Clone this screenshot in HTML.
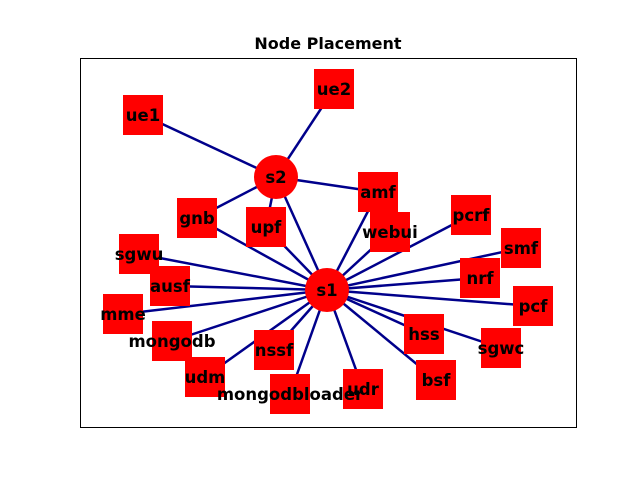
<!DOCTYPE html>
<html><head><meta charset="utf-8"><style>body{margin:0;background:#fff}svg{display:block}</style></head>
<body>
<svg width="640" height="480" xmlns="http://www.w3.org/2000/svg" font-family="DejaVu Sans, Liberation Sans, sans-serif">
<rect width="640" height="480" fill="#fff"/>
<rect x="80.5" y="58.5" width="496" height="369" fill="none" stroke="#000" stroke-width="1"/>
<text x="328" y="49" text-anchor="middle" font-size="16" font-weight="bold">Node Placement</text>
<g stroke="#00008b" stroke-width="2.5">
<line x1="276" y1="177" x2="143" y2="115"/>
<line x1="276" y1="177" x2="334" y2="89"/>
<line x1="276" y1="177" x2="197" y2="218"/>
<line x1="276" y1="177" x2="266" y2="227"/>
<line x1="276" y1="177" x2="378" y2="192"/>
<line x1="276" y1="177" x2="327" y2="290"/>
<line x1="327" y1="290" x2="378" y2="192"/>
<line x1="327" y1="290" x2="197" y2="218"/>
<line x1="327" y1="290" x2="266" y2="227"/>
<line x1="327" y1="290" x2="390" y2="232"/>
<line x1="327" y1="290" x2="471" y2="215"/>
<line x1="327" y1="290" x2="521" y2="248"/>
<line x1="327" y1="290" x2="139" y2="254"/>
<line x1="327" y1="290" x2="170" y2="286"/>
<line x1="327" y1="290" x2="480" y2="278"/>
<line x1="327" y1="290" x2="533" y2="306"/>
<line x1="327" y1="290" x2="123" y2="314"/>
<line x1="327" y1="290" x2="172" y2="341"/>
<line x1="327" y1="290" x2="274" y2="350"/>
<line x1="327" y1="290" x2="424" y2="334"/>
<line x1="327" y1="290" x2="501" y2="348"/>
<line x1="327" y1="290" x2="205" y2="377"/>
<line x1="327" y1="290" x2="290" y2="394"/>
<line x1="327" y1="290" x2="363" y2="389"/>
<line x1="327" y1="290" x2="436" y2="380"/>
</g>
<g fill="#ff0000">
<rect x="123" y="95" width="40" height="40"/>
<rect x="314" y="69" width="40" height="40"/>
<rect x="358" y="172" width="40" height="40"/>
<rect x="177" y="198" width="40" height="40"/>
<rect x="246" y="207" width="40" height="40"/>
<rect x="370" y="212" width="40" height="40"/>
<rect x="451" y="195" width="40" height="40"/>
<rect x="501" y="228" width="40" height="40"/>
<rect x="119" y="234" width="40" height="40"/>
<rect x="150" y="266" width="40" height="40"/>
<rect x="460" y="258" width="40" height="40"/>
<rect x="513" y="286" width="40" height="40"/>
<rect x="103" y="294" width="40" height="40"/>
<rect x="152" y="321" width="40" height="40"/>
<rect x="254" y="330" width="40" height="40"/>
<rect x="404" y="314" width="40" height="40"/>
<rect x="481" y="328" width="40" height="40"/>
<rect x="185" y="357" width="40" height="40"/>
<rect x="270" y="374" width="40" height="40"/>
<rect x="343" y="369" width="40" height="40"/>
<rect x="416" y="360" width="40" height="40"/>
<circle cx="276" cy="177" r="22"/>
<circle cx="327" cy="290" r="22"/>
</g>
<g font-size="16.5" font-weight="bold" text-anchor="middle" fill="#000">
<text x="143" y="121">ue1</text>
<text x="334" y="95">ue2</text>
<text x="276" y="183">s2</text>
<text x="378" y="198">amf</text>
<text x="197" y="224">gnb</text>
<text x="266" y="233">upf</text>
<text x="390" y="238">webui</text>
<text x="471" y="221">pcrf</text>
<text x="521" y="254">smf</text>
<text x="139" y="260">sgwu</text>
<text x="170" y="292">ausf</text>
<text x="327" y="296">s1</text>
<text x="480" y="284">nrf</text>
<text x="533" y="312">pcf</text>
<text x="123" y="320">mme</text>
<text x="172" y="347">mongodb</text>
<text x="274" y="356">nssf</text>
<text x="424" y="340">hss</text>
<text x="501" y="354">sgwc</text>
<text x="205" y="383">udm</text>
<text x="290" y="400">mongodbloader</text>
<text x="363" y="395">udr</text>
<text x="436" y="386">bsf</text>
</g>
</svg>
</body></html>
